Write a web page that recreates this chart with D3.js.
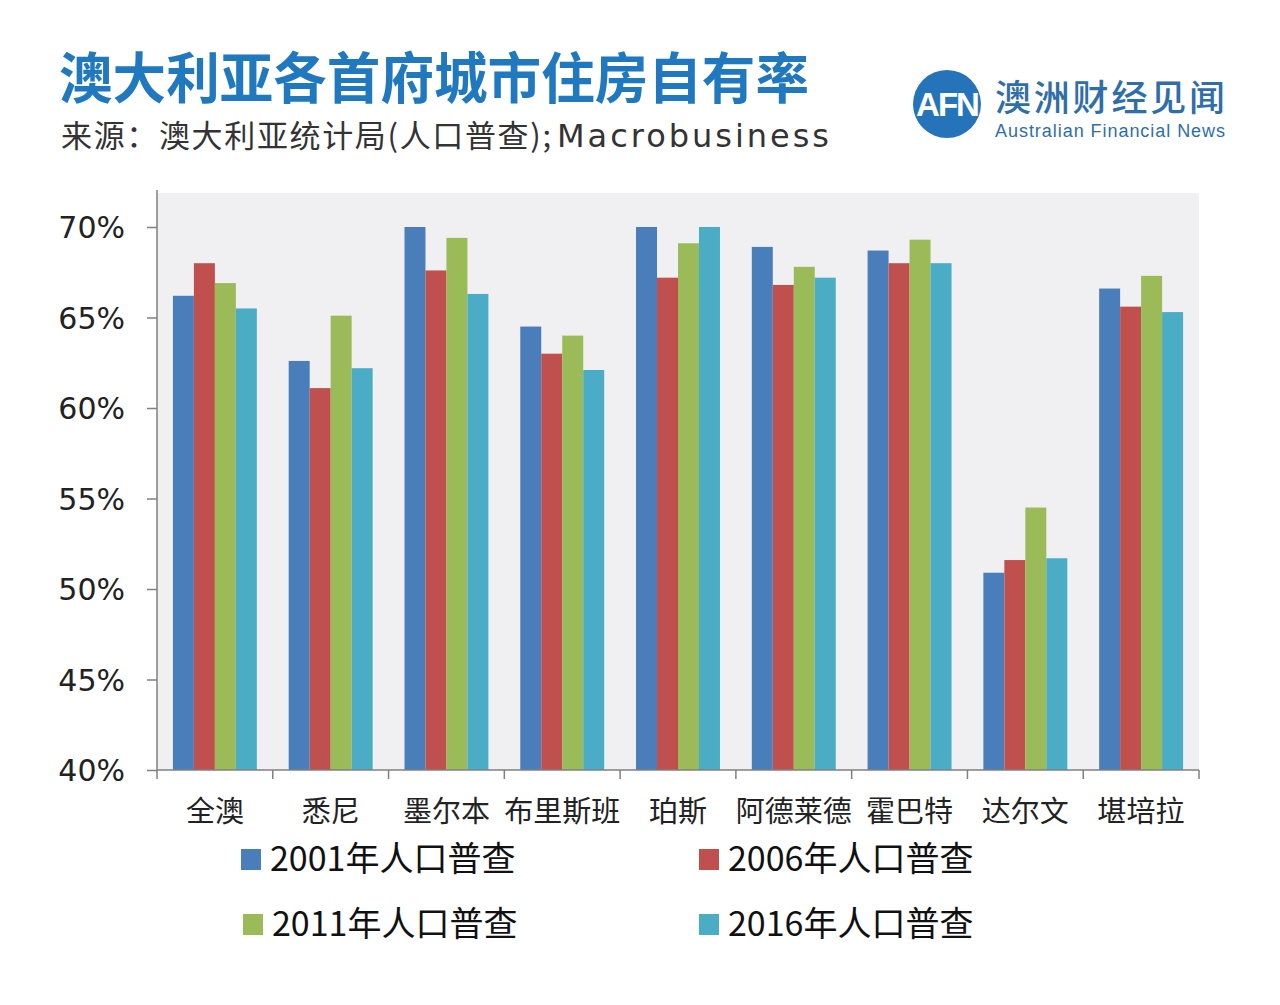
<!DOCTYPE html>
<html>
<head>
<meta charset="utf-8">
<script src="https://cdn.jsdelivr.net/npm/d3@7/dist/d3.min.js"></script>
<style>
  html, body { margin: 0; padding: 0; background: #ffffff; }
  svg { display: block; }
</style>
</head>
<body>
<script>
// ---- data ----
const categories = ["全澳", "悉尼", "墨尔本", "布里斯班", "珀斯", "阿德莱德", "霍巴特", "达尔文", "堪培拉"];
const seriesNames = ["2001年人口普查", "2006年人口普查", "2011年人口普查", "2016年人口普查"];
const values2001 = [66.2, 62.6, 70.0, 64.5, 70.0, 68.9, 68.7, 50.9, 66.6];
const values2006 = [68.0, 61.1, 67.6, 63.0, 67.2, 66.8, 68.0, 51.6, 65.6];
const values2011 = [66.9, 65.1, 69.4, 64.0, 69.1, 67.8, 69.3, 54.5, 67.3];
const values2016 = [65.5, 62.2, 66.3, 62.1, 70.0, 67.2, 68.0, 51.7, 65.3];
const yTicks = [40, 45, 50, 55, 60, 65, 70];
const colors = ["#4a7ebb", "#c0504d", "#9bbb59", "#4bacc6"];

const allSeries = [values2001, values2006, values2011, values2016];

const W = 1280, H = 1005;
const FONT = "'Noto Sans CJK SC', 'Noto Sans', sans-serif";

const svg = d3.select("body").append("svg")
  .attr("width", W).attr("height", H)
  .style("background", "#ffffff");

// ---- titles ----
svg.append("text")
  .attr("x", 59).attr("y", 98)
  .attr("font-family", FONT).attr("font-weight", 700)
  .attr("font-size", 55).attr("fill", "#2079bf")
  .attr("textLength", 750).attr("lengthAdjust", "spacingAndGlyphs")
  .text("澳大利亚各首府城市住房自有率");

svg.append("text")
  .attr("x", 61).attr("y", 147)
  .attr("font-family", FONT).attr("font-weight", 400)
  .attr("font-size", 31).attr("fill", "#333333")
  .attr("textLength", 490).attr("lengthAdjust", "spacing")
  .text("来源：澳大利亚统计局(人口普查);");
svg.append("text")
  .attr("x", 557).attr("y", 147)
  .attr("font-family", "'DejaVu Sans', sans-serif").attr("font-weight", 400)
  .attr("font-size", 32).attr("fill", "#333333")
  .attr("textLength", 272).attr("lengthAdjust", "spacing")
  .text("Macrobusiness");

// ---- logo ----
const logo = svg.append("g");
logo.append("circle").attr("cx", 947).attr("cy", 104).attr("r", 34).attr("fill", "#2574b9");
logo.append("text")
  .attr("x", 947).attr("y", 116).attr("text-anchor", "middle")
  .attr("font-family", "'Liberation Sans', Arial, sans-serif").attr("font-weight", 700)
  .attr("font-size", 33).attr("fill", "#ffffff").attr("letter-spacing", -2)
  .text("AFN");
logo.append("text")
  .attr("x", 995).attr("y", 111)
  .attr("font-family", FONT).attr("font-weight", 500)
  .attr("font-size", 36).attr("fill", "#2f6ea8")
  .attr("textLength", 230).attr("lengthAdjust", "spacing")
  .text("澳洲财经见闻");
logo.append("text")
  .attr("x", 995).attr("y", 137)
  .attr("font-family", "'Liberation Sans', Arial, sans-serif")
  .attr("font-size", 18).attr("fill", "#2f6ea8")
  .attr("textLength", 230).attr("lengthAdjust", "spacing")
  .text("Australian Financial News");

// ---- plot ----
const plotLeft = 157, plotRight = 1199, plotTop = 193, plotBottom = 770;

const y = d3.scaleLinear().domain([40, 70]).range([plotBottom, 227]);
const x0 = d3.scaleBand().domain(categories).range([plotLeft, plotRight])
  .paddingInner(0.275).paddingOuter(0.1375);
const x1 = d3.scaleBand().domain(seriesNames).range([0, x0.bandwidth()]).padding(0);

svg.append("rect")
  .attr("x", plotLeft).attr("y", plotTop)
  .attr("width", plotRight - plotLeft).attr("height", plotBottom - plotTop)
  .attr("fill", "#f0f0f2");

// bars
const groups = svg.append("g").selectAll("g")
  .data(categories)
  .join("g")
  .attr("transform", d => `translate(${x0(d)},0)`);

groups.selectAll("rect")
  .data((c, i) => seriesNames.map((s, j) => ({ s, j, v: allSeries[j][i] })))
  .join("rect")
  .attr("x", d => x1(d.s))
  .attr("y", d => y(d.v))
  .attr("width", x1.bandwidth())
  .attr("height", d => y(40) - y(d.v))
  .attr("fill", d => colors[d.j]);

// y axis
const yAxis = svg.append("g")
  .attr("transform", `translate(${plotLeft},0)`)
  .call(d3.axisLeft(y).tickValues(yTicks).tickFormat(d => d + "%").tickSize(10).tickPadding(22));
yAxis.select(".domain").attr("stroke", "#808080").attr("stroke-width", 1.5)
  .attr("d", `M0,${plotTop - 3}V${plotBottom}`);
yAxis.selectAll(".tick line").attr("stroke", "#808080").attr("stroke-width", 1.5);
yAxis.selectAll(".tick text")
  .attr("font-family", "'DejaVu Sans', sans-serif")
  .attr("font-size", 30).attr("fill", "#222222").attr("dy", "0.36em");

// x axis
const xAxisG = svg.append("g").attr("transform", `translate(0,${plotBottom})`);
xAxisG.append("line")
  .attr("x1", plotLeft).attr("x2", plotRight).attr("y1", 0).attr("y2", 0)
  .attr("stroke", "#808080").attr("stroke-width", 1.5);
const boundaries = d3.range(categories.length + 1).map(i => plotLeft + i * x0.step());
xAxisG.selectAll("line.tk")
  .data(boundaries)
  .join("line").attr("class", "tk")
  .attr("x1", d => d).attr("x2", d => d)
  .attr("y1", 0).attr("y2", 9)
  .attr("stroke", "#808080").attr("stroke-width", 1.5);
xAxisG.selectAll("text")
  .data(categories)
  .join("text")
  .attr("x", d => x0(d) + x0.bandwidth() / 2)
  .attr("y", 52)
  .attr("text-anchor", "middle")
  .attr("font-family", FONT).attr("font-size", 29).attr("fill", "#222222")
  .text(d => d);

// legend
const legendPos = [[241, 849], [699, 849], [243, 914], [699, 914]];
const legend = svg.append("g").selectAll("g")
  .data(seriesNames)
  .join("g")
  .attr("transform", (d, i) => `translate(${legendPos[i][0]},${legendPos[i][1]})`);
legend.append("rect")
  .attr("width", 20).attr("height", 21)
  .attr("fill", (d, i) => colors[i]);
legend.append("text")
  .attr("x", 29).attr("y", 22)
  .attr("font-family", FONT).attr("font-size", 34).attr("fill", "#111111")
  .text(d => d);
</script>
</body>
</html>
